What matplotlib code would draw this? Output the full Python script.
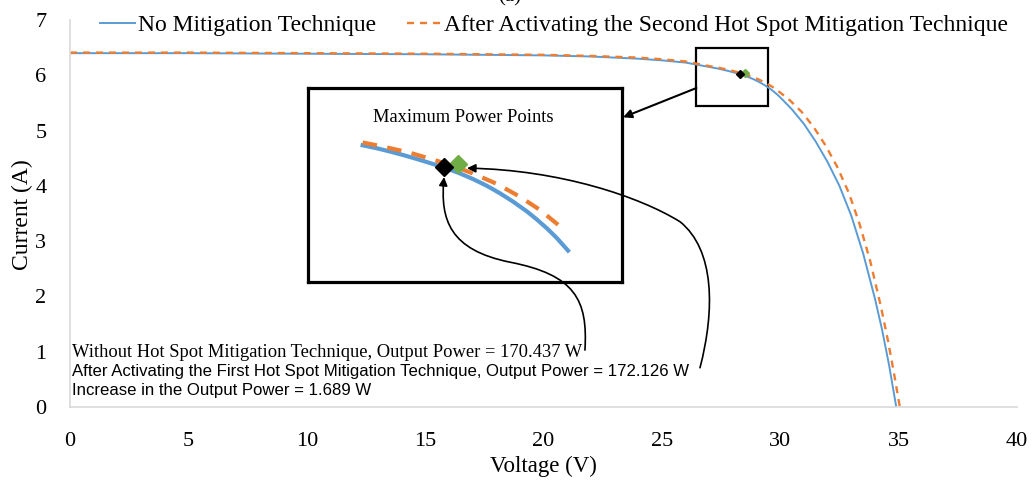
import numpy as np
import matplotlib
matplotlib.use("Agg")
import matplotlib.pyplot as plt
from matplotlib.patches import Rectangle, FancyArrowPatch
from matplotlib.path import Path

# I-V curves (voltage in V, current in A)
V_NONE = [0, 5, 10, 15, 20, 22, 24, 25, 26, 26.5, 27.14, 27.34, 27.53, 27.72,
          27.91, 28.10, 28.3, 28.50, 28.71, 28.91, 29.1, 29.29, 29.49, 29.62,
          29.77, 29.91, 30.07, 30.5, 31.0, 31.5, 32.0, 32.5, 33.0, 33.5, 34.0,
          34.3, 34.6, 34.9]
I_NONE = [6.40, 6.40, 6.39, 6.38, 6.36, 6.34, 6.30, 6.27, 6.23, 6.19, 6.140,
          6.124, 6.106, 6.087, 6.066, 6.044, 6.020, 5.992, 5.958, 5.921, 5.880,
          5.834, 5.780, 5.740, 5.690, 5.638, 5.570, 5.38, 5.12, 4.80, 4.43,
          4.00, 3.46, 2.78, 1.96, 1.40, 0.75, 0.00]

V_SECOND = [0, 5, 10, 15, 20, 22, 24, 25, 26, 26.6, 27.14, 27.43, 27.81, 28.2,
            28.5, 28.71, 29.06, 29.39, 29.67, 29.96, 30.4, 30.9, 31.4, 31.9,
            32.4, 32.9, 33.35, 33.8, 34.25, 34.55, 34.8, 35.05]
I_SECOND = [6.41, 6.41, 6.40, 6.39, 6.37, 6.35, 6.32, 6.29, 6.25, 6.20, 6.155,
            6.133, 6.100, 6.056, 6.018, 5.988, 5.930, 5.860, 5.790, 5.700,
            5.55, 5.34, 5.07, 4.74, 4.35, 3.87, 3.31, 2.64, 1.82, 1.20, 0.62,
            0.00]

MPP_NONE = (28.3, 6.02)
MPP_FIRST = (28.5, 6.04)
P_NONE = 170.437
P_FIRST = 172.126
P_GAIN = 1.689

LABELS = ["No Mitigation Technique",
          "After Activating the Second Hot Spot Mitigation Technique"]

BLUE = "#5B9BD5"
ORANGE = "#ED7D31"
GREEN = "#70AD47"
GRID = "#d9d9d9"
SANS = ["Liberation Sans Narrow", "Liberation Sans", "DejaVu Sans"]

plt.rcParams["font.family"] = ["Liberation Serif", "DejaVu Serif"]

W, H = 1034, 483
fig = plt.figure(figsize=(W / 100, H / 100), dpi=100)
ax = fig.add_axes([70 / W, 1 - 407 / H, 947 / W, 387 / H])

ax.plot(V_NONE, I_NONE, color=BLUE, lw=1.4, label=LABELS[0])
ax.plot(V_SECOND, I_SECOND, color=ORANGE, lw=1.7, ls=(0, (3, 2.5)), label=LABELS[1])
ax.plot(*MPP_FIRST, "D", color=GREEN, ms=4)
ax.plot(*MPP_NONE, "D", color="black", ms=4)

ax.set_xlim(0, 40)
ax.set_ylim(0, 7)
ax.set_xticks(range(0, 41, 5))
ax.set_yticks(range(0, 8))
ax.tick_params(axis="both", length=0, labelsize=16)
ax.tick_params(axis="y", pad=17)
ax.tick_params(axis="x", pad=18)
for s in ("top", "right"):
    ax.spines[s].set_visible(False)
for s in ("left", "bottom"):
    ax.spines[s].set_color(GRID)
    ax.spines[s].set_linewidth(1.2)

ax.set_xlabel("Voltage (V)", fontsize=16.5)
ax.set_ylabel("Current (A)", fontsize=17)
ax.xaxis.set_label_coords(0.4995, -0.125)
ax.yaxis.set_label_coords(-0.039, 0.496)

fig.legend(loc="center", bbox_to_anchor=(0.536, 0.948), ncol=2, frameon=False,
           fontsize=17, handlelength=1.5, handletextpad=0.1, columnspacing=1.3)

# small box around the MPPs on the main curve
ax.add_patch(Rectangle((26.46, 5.44), 3.03, 1.05, fill=False, ec="black", lw=1.6))

# zoomed view
ins = fig.add_axes([308 / W, 1 - 282 / H, 314 / W, 194 / H])
vn = np.array(V_NONE); i_n = np.array(I_NONE)
vs = np.array(V_SECOND); i_s = np.array(I_SECOND)
mn = (vn >= 27.1) & (vn <= 30.1)
ms_ = (vs >= 27.1) & (vs <= 30.0)
ins.plot(vn[mn], i_n[mn], color=BLUE, lw=3, solid_joinstyle="round")
ins.plot(vs[ms_], i_s[ms_], color=ORANGE, lw=3, ls=(0, (3.5, 2.5)))
ins.plot(*MPP_FIRST, "D", color=GREEN, ms=9)
ins.plot(*MPP_NONE, "D", color="black", ms=9)
ins.set_xlim(26.36, 30.84)
ins.set_ylim(5.40, 6.45)
ins.set_xticks([]); ins.set_yticks([])
for s in ins.spines.values():
    s.set_linewidth(2.3)
ins.text(0.494, 0.85, "Maximum Power Points", transform=ins.transAxes,
         ha="center", va="center", fontsize=13.3)

# straight arrow from small box to zoomed view
fig.add_artist(FancyArrowPatch((26.46, 5.77), (23.36, 5.24), transform=ax.transData,
                               arrowstyle="-|>,head_length=5,head_width=2.5",
                               lw=1.5, color="black", shrinkA=0, shrinkB=0, zorder=5))

# curved arrows from the text to the zoomed MPPs
C4 = Path.CURVE4
p1 = Path([(21.75, 1.03), (21.88, 1.94), (21.33, 2.39), (18.58, 2.62),
           (16.05, 2.84), (15.63, 3.38), (15.80, 4.16)],
          [Path.MOVETO, C4, C4, C4, C4, C4, C4])
p2 = Path([(26.61, 0.71), (27.24, 1.75), (27.24, 2.84), (25.77, 3.35),
           (24.08, 3.80), (20.70, 4.29), (16.77, 4.32)],
          [Path.MOVETO, C4, C4, C4, C4, C4, C4])
for p in (p1, p2):
    fig.add_artist(FancyArrowPatch(path=p, transform=ax.transData,
                                   arrowstyle="-|>,head_length=5,head_width=2.5",
                                   lw=1.2, color="black", zorder=5))

ax.text(0.1, 0.99, f"Without Hot Spot Mitigation Technique, Output Power = {P_NONE:.3f} W",
        ha="left", va="center", fontsize=13.3)
ax.text(0.1, 0.64, f"After Activating the First Hot Spot Mitigation Technique, Output Power = {P_FIRST:.3f} W",
        ha="left", va="center", fontsize=12.1, family=SANS)
ax.text(0.1, 0.30, f"Increase in the Output Power = {P_GAIN:.3f} W",
        ha="left", va="center", fontsize=12.1, family=SANS)

fig.text(0.493, 1.006, "(a)", ha="center", va="center", fontsize=15)

fig.savefig("out.png", dpi=100)
